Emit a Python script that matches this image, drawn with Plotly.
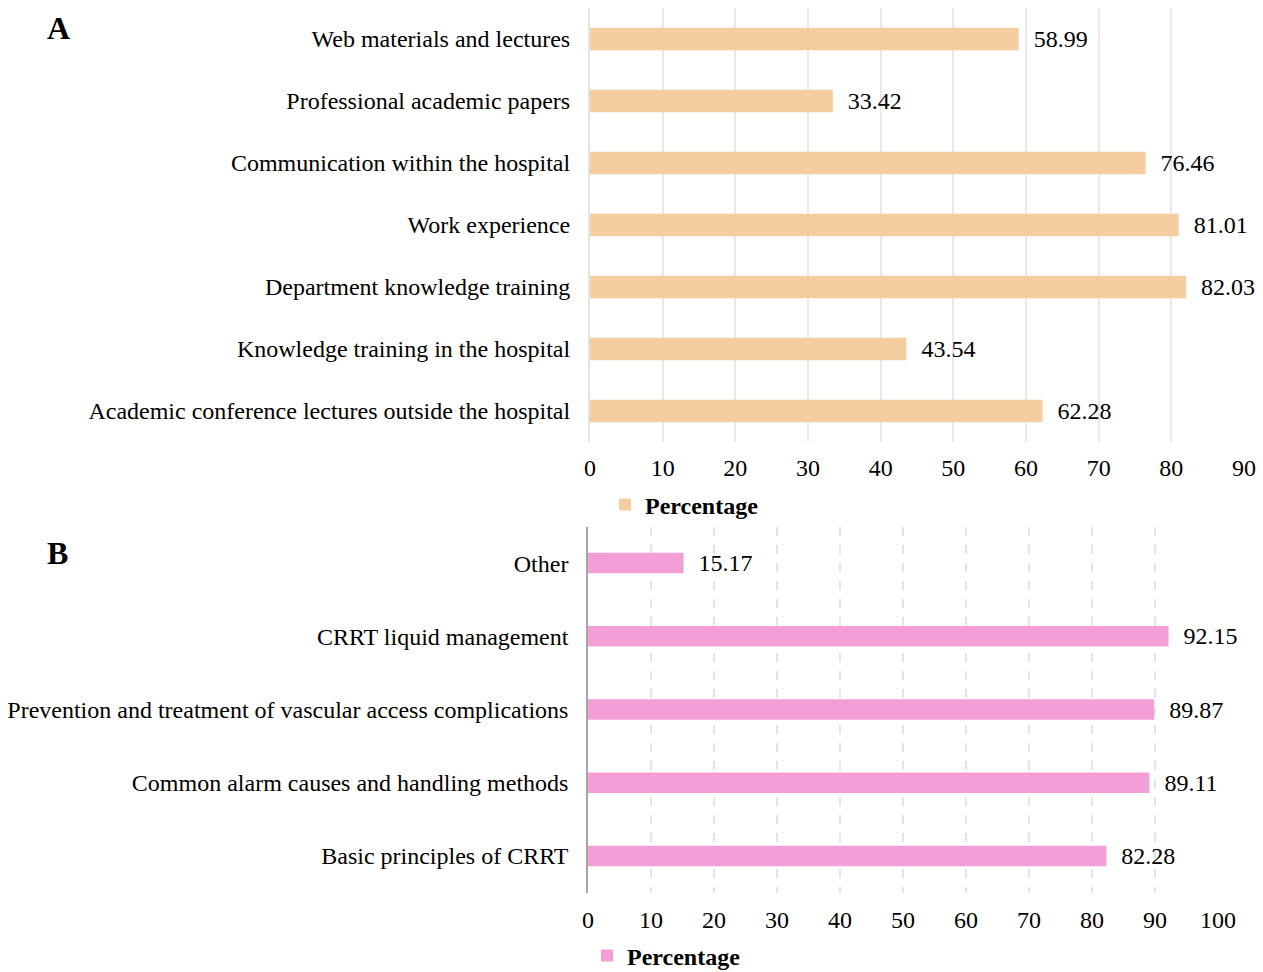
import plotly.graph_objects as go

# Panel A: sources of knowledge
sources = [
    "Web materials and lectures",
    "Professional academic papers",
    "Communication within the hospital",
    "Work experience",
    "Department knowledge training",
    "Knowledge training in the hospital",
    "Academic conference lectures outside the hospital",
]
sources_pct = [58.99, 33.42, 76.46, 81.01, 82.03, 43.54, 62.28]

# Panel B: training needs
topics = [
    "Other",
    "CRRT liquid management",
    "Prevention and treatment of vascular access complications",
    "Common alarm causes and handling methods",
    "Basic principles of CRRT",
]
topics_pct = [15.17, 92.15, 89.87, 89.11, 82.28]

W, H = 1263, 972
FONT = "Liberation Serif, Times New Roman, serif"
FS = 24
NB = "\u00a0"

fig = go.Figure()
fig.add_trace(go.Bar(
    x=sources_pct, y=sources, orientation="h", name="<b>Percentage</b>",
    marker=dict(color="#f5cea0", line=dict(width=0)), width=0.36,
    texttemplate=NB * 2 + "%{x:.2f}", textposition="outside", constraintext="none",
    textfont=dict(family=FONT, size=FS, color="black"), cliponaxis=False,
    xaxis="x", yaxis="y", legend="legend",
))
fig.add_trace(go.Bar(
    x=topics_pct, y=topics, orientation="h", name="<b>Percentage</b>",
    marker=dict(color="#f39fd6", line=dict(width=0)), width=0.28,
    texttemplate=NB * 2 + "%{x:.2f}", textposition="outside", constraintext="none",
    textfont=dict(family=FONT, size=FS, color="black"), cliponaxis=False,
    xaxis="x2", yaxis="y2", legend="legend2",
))

def px_x(p):
    return p / W

def px_y(p):
    return 1 - p / H

fig.update_layout(
    width=W, height=H, margin=dict(l=0, r=0, t=0, b=0, autoexpand=False),
    paper_bgcolor="white", plot_bgcolor="white",
    font=dict(family=FONT, size=FS, color="black"),
    xaxis=dict(domain=[px_x(590), px_x(1244)], range=[0, 90], dtick=10,
               showgrid=True, gridcolor="#e9e9e9", gridwidth=2,
               zeroline=False, showline=False, ticks="",
               ticklabelstandoff=9, automargin=False,
               tickfont=dict(size=FS), anchor="y"),
    yaxis=dict(domain=[px_y(442), px_y(8)], autorange="reversed",
               showline=True, linecolor="#e3e3e3", linewidth=2,
               ticks="", ticklabelstandoff=13, automargin=False, anchor="x",
               tickfont=dict(size=FS)),
    xaxis2=dict(domain=[px_x(588), px_x(1218)], range=[0, 100], dtick=10,
                showgrid=True, gridcolor="#dfe5ef", gridwidth=1.5, griddash="dash",
                zeroline=False, showline=False, ticks="",
                ticklabelstandoff=10, automargin=False,
                tickfont=dict(size=FS), anchor="y2"),
    yaxis2=dict(domain=[px_y(892.5), px_y(526.5)], autorange="reversed",
                showline=True, linecolor="#a6a6a6", linewidth=1.5,
                ticks="", ticklabelstandoff=13, automargin=False, anchor="x2",
                tickfont=dict(size=FS)),
    legend=dict(orientation="h", x=px_x(605), y=px_y(505), yanchor="middle",
                xanchor="left", font=dict(size=FS, family=FONT),
                itemwidth=30, bgcolor="rgba(0,0,0,0)"),
    legend2=dict(orientation="h", x=px_x(587), y=px_y(956), yanchor="middle",
                 xanchor="left", font=dict(size=FS, family=FONT),
                 itemwidth=30, bgcolor="rgba(0,0,0,0)"),
    showlegend=True,
    annotations=[
        dict(text="<b>A</b>", x=px_x(45), y=px_y(28), xref="paper", yref="paper",
             xanchor="left", yanchor="middle", showarrow=False,
             font=dict(family=FONT, size=32)),
        dict(text="<b>B</b>", x=px_x(45), y=px_y(553), xref="paper", yref="paper",
             xanchor="left", yanchor="middle", showarrow=False,
             font=dict(family=FONT, size=32)),
    ],
)
fig.update_traces(showlegend=True)

fig.write_html("out.html")
